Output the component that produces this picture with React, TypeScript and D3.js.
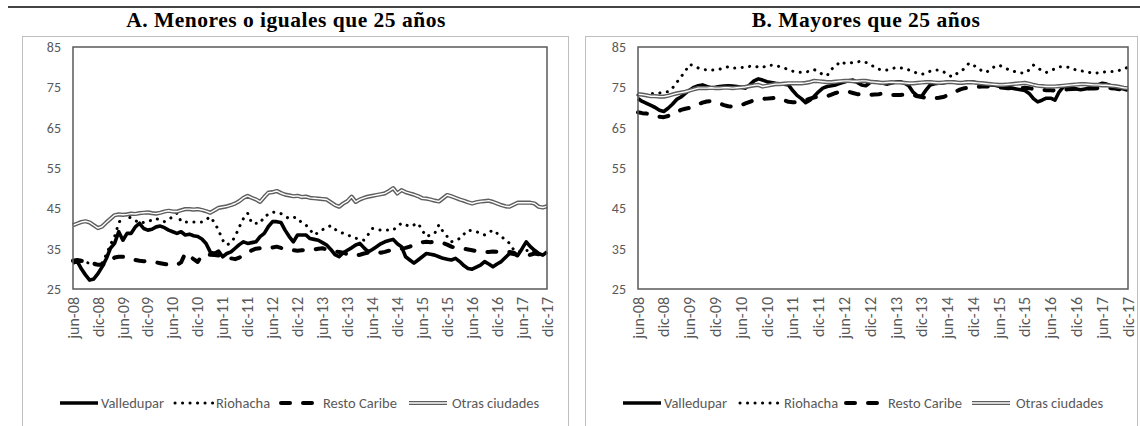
import React from "react";
import * as d3 from "d3";

// Monthly periods jun-08 .. dic-17 (115 months)
const months = ["ene","feb","mar","abr","may","jun","jul","ago","sep","oct","nov","dic"];
const periods: string[] = [];
for (let y = 2008; y <= 2017; y++) {
  for (let m = 0; m < 12; m++) {
    if (y === 2008 && m < 5) continue;
    periods.push(`${months[m]}-${String(y).slice(2)}`);
  }
}
const tickLabels = ["jun-08","dic-08","jun-09","dic-09","jun-10","dic-10","jun-11","dic-11","jun-12","dic-12","jun-13","dic-13","jun-14","dic-14","jun-15","dic-15","jun-16","dic-16","jun-17","dic-17"];
const yTicks = [25, 35, 45, 55, 65, 75, 85];
const seriesNames = ["Valledupar", "Riohacha", "Resto Caribe", "Otras ciudades"];

// Panel A: <= 25 years
const aValledupar = [31.4,31.9,30,28.5,27.2,27.5,28.8,30.5,32.5,35.1,
36.3,39.2,37.1,38.8,38.8,40.4,41.3,40,39.6,39.8,
40.4,40.6,40.2,39.6,39.2,38.8,39.2,38.4,38.6,38.2,
38,37.4,36.3,34.2,33.8,34.4,33,33.8,34.2,35.1,
36,36.7,36.3,36.5,36.7,38,38.8,40.5,41.7,41.7,
41.5,39.6,38,36.7,38.4,38.4,38.4,37.5,37.3,37.1,
36.5,35.9,34.8,33.5,33,34,34.6,35.2,35.9,36.3,
35.2,34.2,34.8,35.5,36.2,36.7,37,37.3,36.2,35.5,
33,32.2,31.4,32.2,33,33.8,33.6,33.4,33,32.6,
32.4,32.2,32.6,31.8,30.8,30.1,29.9,30.4,30.9,31.8,
31.2,30.5,31.2,31.8,32.8,33.8,33.6,33.4,35,36.7,
35.5,34.6,33.8,33.4,34.2];
const aRiohacha = [32,32,31.8,31.6,31.4,31,31,31.5,33.5,36,
38,41.3,43.4,43,42.6,42,41.3,41.5,41.7,42.1,
42.5,42,41.7,42.3,42.9,43.8,41.7,41.6,41.6,41.6,
41.6,41.6,42.2,42.9,41.5,39.6,37.1,35.9,36.5,38,
40.4,42.5,43.8,41.3,41.3,41.3,43,43.5,44.1,43.9,
43.7,43,42.5,42.8,42.6,41.4,40.9,39.7,38.4,39,
39.7,40.2,40.7,39.8,39.2,38.8,38.4,38,37.6,37.3,
37.1,38.5,40,39.8,39.6,39.6,39.6,39.6,40.5,41.3,
40.9,40.5,40.9,41.3,39.5,38,38.4,38.8,40.9,39.2,
38,36.7,37.1,37.5,38.6,39.6,39.4,39.2,38.8,38.4,
39,39.6,38.8,38,37.2,36.3,34.7,34.4,34.2,34.5,
34.7,34,33.4,33.8,34.2];
const aResto = [32,32.2,32,31.8,31.5,31.3,31,31,31.2,32,
32.8,33,33,32.8,32.5,32.2,32,31.9,31.8,31.7,
31.6,31.4,31.2,31,30.9,31,31.6,33.9,33.2,32.4,
31.7,33.4,33.5,33.5,33.4,33.3,33.2,33,32.6,32.4,
32.8,33.4,34,34.6,35,35.1,35.2,35.1,35.3,35.5,
35.2,34.8,34.6,34.6,34.5,34.6,34.7,34.6,34.8,35,
35.1,34.8,34.5,34.3,34.2,34,33.6,33.4,33.3,33.5,
33.8,34,34.1,34.2,34,34.2,34.5,34.6,34.8,35,
35.2,35.5,36,36.4,36.6,36.7,36.6,36.7,36.6,36.4,
36,35.5,35.2,35.1,35,34.8,34.6,34.4,34.3,34.2,
34.2,34.3,34.2,34.1,34.2,34.2,34,33.2,33,33.2,
33.5,33.8,33.6,33.5,33.6];
const aOtras = [40.8,41.2,41.6,41.8,41.5,40.8,40.1,40.5,41.5,42.4,
43.3,43.5,43.4,43.5,43.7,43.6,43.8,43.9,44,43.8,
43.7,43.9,44.2,44.4,44.2,44.2,44.5,44.8,44.8,44.7,
44.8,44.6,44.3,43.9,44.5,45.1,45.3,45.5,45.8,46.2,
46.8,47.6,48.1,47.6,47.2,46.6,47.8,48.9,49,49.3,
48.8,48.4,48.2,48,48.1,47.8,47.9,47.6,47.5,47.4,
47.3,47.2,46.5,45.8,45.4,46.2,46.8,47.9,46.6,47.2,
47.6,47.9,48.1,48.3,48.5,48.7,49.3,50,48.7,49.5,
49,48.7,48.4,48,47.5,47.4,47.2,46.9,46.7,47.5,
48.3,48,47.6,47.2,46.9,46.5,46.2,46.5,46.7,46.8,
46.9,46.6,46.2,45.8,45.5,45.4,45.9,46.4,46.4,46.4,
46.4,46.2,45.4,45.2,45.5];

// Panel B: > 25 years
const bValledupar = [72.2,71.5,71,70.5,70,69.3,69,69.8,70.8,72,
72.6,73.5,74.3,75,75.4,75.6,75.2,74.9,75,75.2,
75.3,75.4,75.3,75.2,75,74.8,75.6,76.6,77.1,76.8,
76.4,76.2,76,75.9,75.8,75.6,74.2,73,72.2,71.2,
71.8,72.8,73.9,74.8,75.2,75.4,75.6,76,76.3,76.6,
76.8,76.2,75.6,75.4,76.2,76.4,76.2,76,75.8,76.1,
76.3,76.4,76,75.4,73.8,72.9,72.8,74.3,75.6,75.9,
76,76.1,76.3,76.4,76.2,76,76.2,76.4,76.3,76.1,
76,75.8,75.6,75.5,75.3,75.2,75,74.8,74.6,74.4,
74.2,73.5,72.2,71.4,71.8,72.3,72.3,71.8,73.9,75.2,
75,74.8,74.6,74.4,74.6,74.8,75.1,75.6,76,75.8,
75.4,74.9,74.8,74.6,74.3];
const bRiohacha = [73.1,72.8,73.2,73.5,73.5,73.6,73.8,73.9,74.8,76.2,
77.6,79,80.7,80.3,79.8,79.5,79.3,79.2,79.4,79.5,
79.8,80.1,79.8,79.8,79.9,80,80.2,80.3,80,79.9,
80.5,80.5,80.4,80.1,79.8,79.4,79,78.8,78.7,78.8,
79,79.4,78.8,78.2,77.9,79.5,80.2,81.4,81,80.9,
81.2,81.3,81.5,81.2,80.6,80.1,79.5,79.2,79.3,79.6,
79.9,79.8,79.7,79.3,78.9,78.5,78.2,78.6,79,79.3,
79.3,78.9,78.3,77.6,78.3,78.9,79.7,81,80.5,79.8,
79.1,78.7,79.4,80.2,80.5,80,79.5,79.1,78.8,78.6,
78.5,79.3,80.5,79.8,79.1,78.7,79.1,79.6,80.1,80.1,
80,79.6,79.3,79.1,78.9,78.7,78.5,78.6,78.7,78.9,
78.9,78.9,79.2,79.5,80];
const bResto = [68.8,68.6,68.5,68.3,68,67.7,67.6,67.9,68.4,68.9,
69.4,69.7,69.9,70.3,70.8,71.2,71.5,71.6,71.4,71,
70.6,70.3,70.2,70.3,70.6,71,71.4,71.8,72,72.1,
72.2,72.3,72.4,72.3,71.8,71.4,71.3,71.3,71.4,71.8,
72.2,72.5,72.7,72.6,72.8,73.2,73.6,73.9,74,73.9,
73.6,73.3,73.2,73.1,73.1,73.2,73.3,73.5,73.4,73.1,
73.1,73.1,73.2,73.3,73.1,72.8,72.6,72.4,72.3,72.3,
72.4,72.6,73,73.5,74,74.5,74.8,74.9,75,75.1,
75.2,75.2,75.2,75.1,75,74.9,74.8,74.8,74.7,74.8,
74.9,74.8,74.6,74.5,74.4,74.3,74.3,74.2,74.3,74.4,
74.5,74.6,74.7,74.8,74.8,74.7,74.7,74.8,74.8,74.9,
74.8,74.7,74.5,74.4,74.2];
const bOtras = [73.3,73.2,73,72.8,72.8,72.7,72.7,72.9,73.2,73.5,
73.7,73.9,74.2,74.5,74.8,74.8,74.8,74.9,74.8,74.8,
74.9,74.9,74.8,74.9,75,75.1,75.3,75.5,75.6,75.2,
75.4,75.6,75.8,75.8,75.9,76,76,76,76,76.1,
76.3,76.6,76.5,76.4,76.3,76.3,76.4,76.5,76.6,76.6,
76.5,76.5,76.6,76.6,76.4,76.3,76.2,76.1,76.2,76.3,
76.2,76.2,76.1,76,76,76.1,76.2,76.3,76.3,76.2,
76.1,76.2,76.3,76.3,76.2,76.1,76.2,76.3,76.2,76.1,
76,75.9,75.8,75.7,75.6,75.6,75.7,75.8,75.9,76,
76.1,75.9,75.6,75.4,75.3,75.2,75.2,75.2,75.3,75.4,
75.5,75.6,75.7,75.8,75.8,75.7,75.6,75.6,75.5,75.5,
75.4,75.3,75.1,74.9,74.8];

const FONT = "Carlito, 'Liberation Sans Narrow', 'Open Sans', sans-serif";
const AXIS_GRAY = "#595959";
const FS = 14.5;

type PanelProps = {
  title: string;
  box: [number, number, number, number];
  plot: [number, number, number, number]; // x0, y0, x1, y1
  data: number[][];
  titleX: number;
  legendLineX: number[];
  legendTextX: number[];
};

function drawSeries(k: number, d: string, key: string) {
  if (k === 0) return <path key={key} d={d} fill="none" stroke="#000" strokeWidth={3.6} strokeLinejoin="round" />;
  if (k === 1)
    return <path key={key} d={d} fill="none" stroke="#000" strokeWidth={3} strokeDasharray="0.1 7.4" strokeLinecap="round" />;
  if (k === 2)
    return <path key={key} d={d} fill="none" stroke="#000" strokeWidth={4} strokeDasharray="9 13" strokeLinecap="round" strokeLinejoin="round" />;
  return (
    <g key={key}>
      <path d={d} fill="none" stroke="#5e5e5e" strokeWidth={4.2} strokeLinejoin="round" />
      <path d={d} fill="none" stroke="#fff" strokeWidth={1.4} strokeLinejoin="round" />
    </g>
  );
}

function Panel({ title, box, plot, data, titleX, legendLineX, legendTextX }: PanelProps) {
  const [px0, py0, px1, py1] = plot;
  const x = d3.scalePoint<string>().domain(periods).range([px0, px1]);
  const y = d3.scaleLinear().domain([25, 85]).range([py1, py0]);
  const line = d3
    .line<number>()
    .x((_, i) => x(periods[i]) as number)
    .y((v) => y(v));
  const legendY = 403;
  return (
    <g>
      <rect x={box[0]} y={box[1]} width={box[2]} height={box[3]} fill="#fff" stroke="#bfbfbf" strokeWidth={1} />
      <text x={titleX} y={27} textAnchor="middle" fontFamily="'Liberation Serif', 'DejaVu Serif', serif" fontWeight="bold" fontSize={21.5} letterSpacing={0.5} fill="#000">
        {title}
      </text>
      {yTicks.map((t) => (
        <text key={t} x={px0 - 12} y={y(t)} dy="0.35em" textAnchor="end" fontFamily={FONT} fontSize={14} fill={AXIS_GRAY}>
          {t}
        </text>
      ))}
      {tickLabels.map((lab) => {
        const tx = x(lab) as number;
        return (
          <text key={lab} transform={`translate(${tx},${py1 + 8}) rotate(-90)`} dy="0.35em" textAnchor="end" fontFamily={FONT} fontSize={16} fill={AXIS_GRAY}>
            {lab}
          </text>
        );
      })}
      {data.map((s, k) => drawSeries(k, line(s) || "", `s${k}`))}
      <rect x={px0} y={py0} width={px1 - px0} height={py1 - py0} fill="none" stroke={AXIS_GRAY} strokeWidth={1.5} />
      {seriesNames.map((nm, k) => {
        const lx = legendLineX[k];
        const d = `M${lx},${legendY}L${lx + 38},${legendY}`;
        return (
          <g key={nm}>
            {drawSeries(k, d, `l${k}`)}
            <text x={legendTextX[k]} y={legendY} dy="0.35em" fontFamily={FONT} fontSize={FS} fill={AXIS_GRAY}>
              {nm}
            </text>
          </g>
        );
      })}
    </g>
  );
}

export default function App() {
  return (
    <svg width={1140} height={426} style={{ position: "absolute", left: 0, top: 0, background: "#fff" }}>
      <line x1={8} x2={1140} y1={7} y2={7} stroke="#444" strokeWidth={2} />
      <Panel
        title="A. Menores o iguales que 25 años"
        box={[22.5, 36.5, 546, 400]}
        plot={[73, 47, 547, 289]}
        data={[aValledupar, aRiohacha, aResto, aOtras]}
        titleX={286}
        legendLineX={[60, 175, 281, 409]}
        legendTextX={[101, 216, 323, 452]}
      />
      <Panel
        title="B. Mayores que 25 años"
        box={[585.5, 36.5, 552, 400]}
        plot={[638, 47, 1128, 289]}
        data={[bValledupar, bRiohacha, bResto, bOtras]}
        titleX={866}
        legendLineX={[623, 740, 846, 972]}
        legendTextX={[664, 784, 888, 1016]}
      />
    </svg>
  );
}
